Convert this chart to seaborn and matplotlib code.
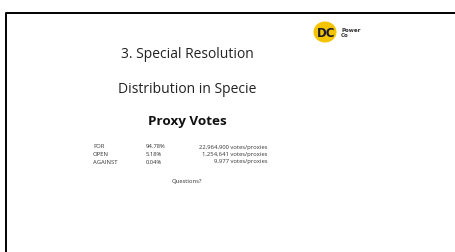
import matplotlib
matplotlib.use("Agg")
import matplotlib.pyplot as plt
import matplotlib.patches as mpatches
import seaborn as sns

title1 = "3. Special Resolution"
title2 = "Distribution in Specie"
title3 = "Proxy Votes"
categories = ["FOR", "OPEN", "AGAINST"]
percents = ["94.78%", "5.18%", "0.04%"]
votes = ["22,964,900 votes/proxies", "1,254,641 votes/proxies", "9,977 votes/proxies"]
footer = "Questions?"

sns.set_theme(style="white")
plt.rcParams['font.family'] = ['Open Sans', 'DejaVu Sans']

fig = plt.figure(figsize=(4.55, 2.53), dpi=100)
ax = fig.add_axes([0, 0, 1, 1])
ax.set_xlim(0, 455)
ax.set_ylim(253, 0)
ax.axis("off")

# slide border
ax.plot([6, 6, 456], [254, 14, 14], color="black", lw=1.4, solid_capstyle="butt")

# logo
ax.add_patch(mpatches.Ellipse((325, 33), 23, 21, color="#F5C400", lw=0))
ax.text(326, 33.5, "DC", ha="center", va="center", fontsize=8.5, fontweight="bold",
        color="#1a1a2e", family="DejaVu Sans")
ax.text(341, 30.8, "Power", ha="left", va="center", fontsize=4.0, fontweight="bold",
        color="#333333", family="DejaVu Sans")
ax.text(341, 35.2, "Co", ha="left", va="center", fontsize=4.0, fontweight="bold",
        color="#333333", family="DejaVu Sans")

ax.text(187, 54, title1, ha="center", va="center", fontsize=10, color="#222222")
ax.text(187, 89, title2, ha="center", va="center", fontsize=10, color="#222222")
ax.text(187, 121, title3, ha="center", va="center", fontsize=9.7, fontweight="bold", color="#111111")

ys = [147, 154.5, 162]
for y, c, p, v in zip(ys, categories, percents, votes):
    ax.text(93, y, c, ha="left", va="center", fontsize=4.2, color="#333333")
    ax.text(146, y, p, ha="left", va="center", fontsize=4.2, color="#333333")
    ax.text(267, y, v, ha="right", va="center", fontsize=4.2, color="#333333")

ax.text(187, 181, footer, ha="center", va="center", fontsize=4.2, color="#333333")

fig.savefig("out.png", dpi=100)
